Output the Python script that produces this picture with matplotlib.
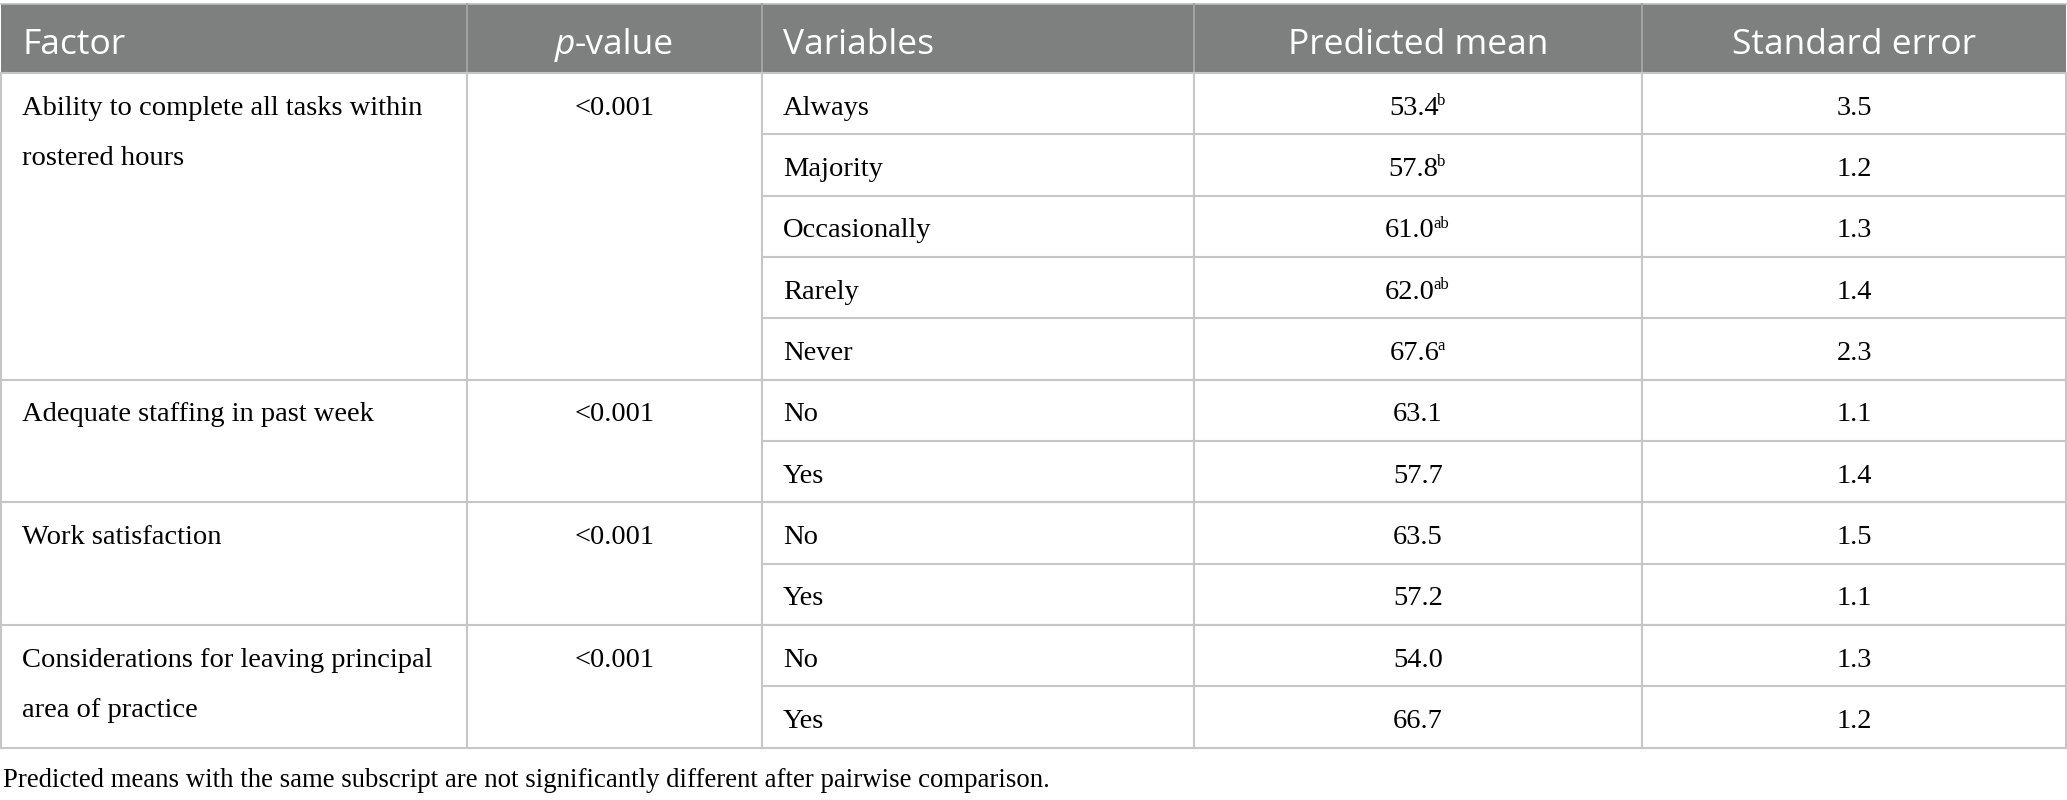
import matplotlib.pyplot as plt
from matplotlib.patches import Rectangle

# Table content
headers = ['Factor', 'p-value', 'Variables', 'Predicted mean', 'Standard error']
factors = ['Ability to complete all tasks within\nrostered hours',
           'Adequate staffing in past week',
           'Work satisfaction',
           'Considerations for leaving principal\narea of practice']
factor_rows = [5, 2, 2, 2]
p_values = ['<0.001', '<0.001', '<0.001', '<0.001']
variables = ['Always', 'Majority', 'Occasionally', 'Rarely', 'Never',
             'No', 'Yes', 'No', 'Yes', 'No', 'Yes']
means = ['53.4', '57.8', '61.0', '62.0', '67.6',
         '63.1', '57.7', '63.5', '57.2', '54.0', '66.7']
mean_sup = ['b', 'b', 'ab', 'ab', 'a', '', '', '', '', '', '']
std_err = ['3.5', '1.2', '1.3', '1.4', '2.3',
           '1.1', '1.4', '1.5', '1.1', '1.3', '1.2']
footnote = ('Predicted means with the same subscript are not significantly '
            'different after pairwise comparison.')

# Layout (pixels)
W, H = 2067, 800
col_x = [1, 467, 762, 1194, 1642, 2066]
head_top, head_bot = 4, 73
row_h = (747.5 - head_bot) / len(variables)
pad = 21

header_color = '#7e807f'
line_color = '#c6c6c6'
serif = ['Liberation Serif', 'DejaVu Serif']
sans = ['Open Sans', 'DejaVu Sans']
hfs = 25.5   # header font size
fs = 20.5    # body font size
sfs = 12     # superscript font size

fig = plt.figure(figsize=(W / 100, H / 100), dpi=100)
ax = fig.add_axes([0, 0, 1, 1])
ax.set_xlim(0, W)
ax.set_ylim(H, 0)
ax.axis('off')

fig.canvas.draw()
renderer = fig.canvas.get_renderer()


def text_width(t):
    bb = t.get_window_extent(renderer)
    return bb.width


# Header band
ax.add_patch(Rectangle((col_x[0], head_top), col_x[-1] - col_x[0], head_bot - head_top,
                       facecolor=header_color, edgecolor='none'))
ax.plot([col_x[0], col_x[-1]], [head_top, head_top], color='#bdbdbd', lw=1.2)
for x in col_x[1:-1]:
    ax.plot([x, x], [head_top, head_bot], color='#a2a3a2', lw=1.4)

# Header text
hb = 54
ax.text(col_x[0] + pad, hb, headers[0], color='white', fontsize=hfs, family=sans,
        va='baseline', ha='left')
p_txt = ax.text(0, hb, 'p', color='white', fontsize=hfs, family=sans,
                style='italic', va='baseline', ha='left')
v_txt = ax.text(0, hb, '-value', color='white', fontsize=hfs, family=sans,
                va='baseline', ha='left')
wp, wv = text_width(p_txt), text_width(v_txt)
px0 = (col_x[1] + col_x[2]) / 2 - (wp + wv) / 2
p_txt.set_x(px0)
v_txt.set_x(px0 + wp)
ax.text(col_x[2] + pad, hb, headers[2], color='white', fontsize=hfs, family=sans,
        va='baseline', ha='left')
ax.text((col_x[3] + col_x[4]) / 2, hb, headers[3], color='white', fontsize=hfs,
        family=sans, va='baseline', ha='center')
ax.text((col_x[4] + col_x[5]) / 2, hb, headers[4], color='white', fontsize=hfs,
        family=sans, va='baseline', ha='center')

# Grid lines
lw = 1.5
ax.plot([col_x[0], col_x[-1]], [head_bot, head_bot], color=line_color, lw=lw)
for i in range(1, len(variables) + 1):
    y = head_bot + i * row_h
    ax.plot([col_x[2], col_x[-1]], [y, y], color=line_color, lw=lw)
start = 0
for n in factor_rows:
    start += n
    y = head_bot + start * row_h
    ax.plot([col_x[0], col_x[-1]], [y, y], color=line_color, lw=lw)
bottom = head_bot + len(variables) * row_h
for x in col_x:
    ax.plot([x, x], [head_bot, bottom], color=line_color, lw=lw)

# Body text
base_off = 11
start = 0
for fac, pval, n in zip(factors, p_values, factor_rows):
    y0 = head_bot + start * row_h + row_h / 2 + base_off
    for k, line in enumerate(fac.split('\n')):
        ax.text(col_x[0] + pad, y0 + k * 50, line, fontsize=fs, family=serif,
                va='baseline', ha='left')
    ax.text((col_x[1] + col_x[2]) / 2, y0, pval, fontsize=fs, family=serif,
            va='baseline', ha='center')
    start += n

for i, (var, m, sup, se) in enumerate(zip(variables, means, mean_sup, std_err)):
    y = head_bot + i * row_h + row_h / 2 + base_off
    ax.text(col_x[2] + pad, y, var, fontsize=fs, family=serif, va='baseline', ha='left')
    cx = (col_x[3] + col_x[4]) / 2
    t = ax.text(cx, y, m, fontsize=fs, family=serif, va='baseline', ha='left')
    if sup:
        s = ax.text(0, y - 9.5, sup, fontsize=sfs, family=serif, va='baseline', ha='left')
        wm, ws = text_width(t), text_width(s)
        x0 = cx - (wm + ws) / 2
        t.set_x(x0)
        s.set_x(x0 + wm - 1.5)
    else:
        t.set_x(cx - text_width(t) / 2)
    ax.text((col_x[4] + col_x[5]) / 2, y, se, fontsize=fs, family=serif,
            va='baseline', ha='center')

# Footnote
ax.text(3, 787, footnote, fontsize=19.3, family=serif, va='baseline', ha='left')

fig.savefig('out.png', dpi=100, facecolor='white')
